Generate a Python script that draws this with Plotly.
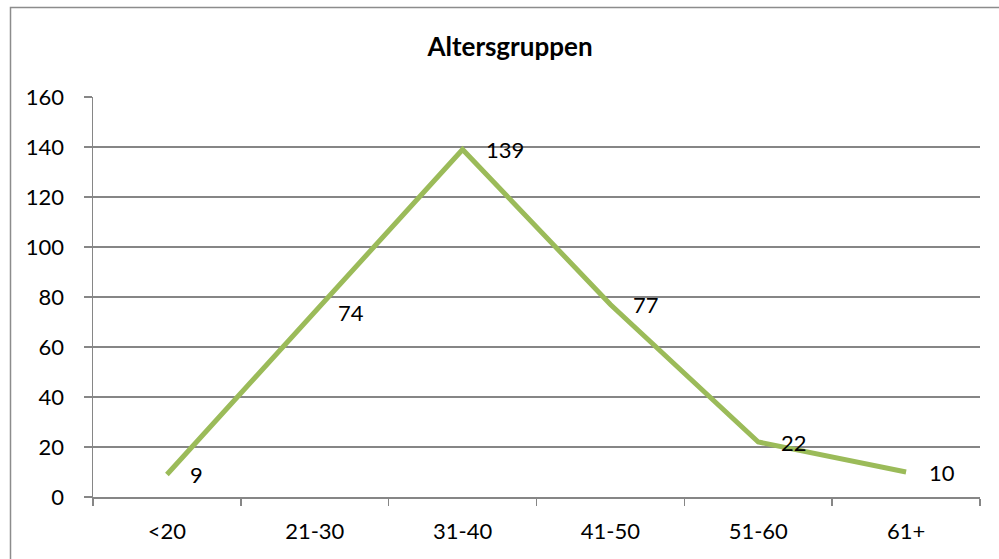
import plotly.graph_objects as go

categories = ["<20", "21-30", "31-40", "41-50", "51-60", "61+"]
values = [9, 74, 139, 77, 22, 10]
y_ticks = [0, 20, 40, 60, 80, 100, 120, 140, 160]

W, H = 999, 559
L, R, T, B = 93, 980, 97, 497
FONT = "Lato, Calibri, Carlito, sans-serif"
GRAY = "#868686"

fig = go.Figure()
fig.add_trace(go.Scatter(
    x=categories, y=values, mode="lines",
    line=dict(color="#9BBB59", width=5),
    hoverinfo="skip", showlegend=False,
))

for c, v in zip(categories, values):
    fig.add_annotation(x=c, y=v, text=str(v), showarrow=False,
                       xanchor="left", yanchor="middle", xshift=21,
                       font=dict(family=FONT, size=22, color="#000000"))

pw = R - L
ph = B - T
def px_x(p):
    return (p - L) / pw
def px_y(p):
    return (B - p) / ph

fig.add_shape(type="rect", xref="paper", yref="paper",
              x0=px_x(10.5), x1=px_x(1015), y0=px_y(565), y1=px_y(7.5),
              line=dict(color="#8c8c8c", width=1.5), fillcolor="rgba(0,0,0,0)",
              layer="below")

fig.update_layout(
    width=W, height=H,
    margin=dict(l=L, r=W - R, t=T, b=H - B),
    paper_bgcolor="white", plot_bgcolor="white",
    font=dict(family=FONT, size=22, color="#000000"),
    title=dict(text="<b>Altersgruppen</b>", x=510 / W, xanchor="center",
               y=1 - 47 / H, yanchor="middle",
               font=dict(family=FONT, size=26, color="#000000")),
    xaxis=dict(
        type="category", range=[-0.5, 5.5],
        tickmode="array", tickvals=categories, ticktext=categories,
        tickson="boundaries", ticks="outside", ticklen=7, tickcolor=GRAY,
        tickwidth=1.5, showline=True, linecolor=GRAY, linewidth=1.5,
        showgrid=False, zeroline=False, ticklabelstandoff=14,
        tickfont=dict(family=FONT, size=22),
    ),
    yaxis=dict(
        range=[0, 160], tickmode="array", tickvals=y_ticks,
        ticks="outside", ticklen=8, tickcolor=GRAY, tickwidth=1.5,
        showline=True, linecolor=GRAY, linewidth=1.5,
        showgrid=True, gridcolor=GRAY, gridwidth=1.5, zeroline=False,
        ticklabelstandoff=15, tickfont=dict(family=FONT, size=22),
    ),
)

fig.write_html("out.html", config={"displayModeBar": False, "staticPlot": True})

with open("out.html", "r", encoding="utf-8") as f:
    html = f.read()
html = html.replace("<body>", '<body style="margin:0;padding:0;overflow:hidden">', 1)
with open("out.html", "w", encoding="utf-8") as f:
    f.write(html)
